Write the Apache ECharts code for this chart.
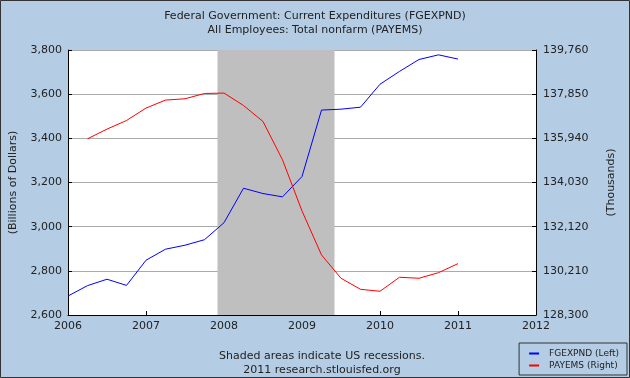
<!DOCTYPE html>
<html>
<head>
<meta charset="utf-8">
<script src="https://cdn.jsdelivr.net/npm/echarts@6/dist/echarts.min.js"></script>
<style>html,body{margin:0;padding:0;background:#B4CDE4;}#c{width:630px;height:378px;}</style>
</head>
<body>
<div id="c"></div>
<script>
// Quarterly observations
const fgQuarters = ['2006Q1','2006Q2','2006Q3','2006Q4','2007Q1','2007Q2','2007Q3','2007Q4','2008Q1','2008Q2','2008Q3','2008Q4','2009Q1','2009Q2','2009Q3','2009Q4','2010Q1','2010Q2','2010Q3','2010Q4','2011Q1'];
const fgexpnd = [2686, 2733, 2762, 2734, 2848, 2898, 2916, 2941, 3018, 3174, 3150, 3135, 3227, 3528, 3532, 3541, 3645, 3703, 3757, 3778, 3759];
const payQuarters = ['2006Q2','2006Q3','2006Q4','2007Q1','2007Q2','2007Q3','2007Q4','2008Q1','2008Q2','2008Q3','2008Q4','2009Q1','2009Q2','2009Q3','2009Q4','2010Q1','2010Q2','2010Q3','2010Q4','2011Q1'];
const payems = [135919, 136339, 136711, 137248, 137594, 137651, 137880, 137897, 137361, 136668, 135010, 132800, 130897, 129888, 129411, 129326, 129932, 129888, 130131, 130521];
const yearTicks = [2006, 2007, 2008, 2009, 2010, 2011, 2012];
const leftTicks = [2600, 2800, 3000, 3200, 3400, 3600, 3800];
const rightTicks = [128300, 130210, 132120, 134030, 135940, 137850, 139760];
const recession = ['2007-12', '2009-06'];

function qToYear(q){ return +q.slice(0,4) + (+q.slice(5) - 1) / 4; }
function ymToYear(s){ return +s.slice(0,4) + (+s.slice(5,7) - 1) / 12; }
const fmt = v => Number(v).toLocaleString('en-US');
const font = 'DejaVu Sans';

const chart = echarts.init(document.getElementById('c'));
chart.setOption({
  backgroundColor: '#B4CDE4',
  animation: false,
  textStyle: { fontFamily: font },
  title: [
    { text: 'Federal Government: Current Expenditures (FGEXPND)\nAll Employees: Total nonfarm (PAYEMS)',
      left: 'center', top: 4,
      textStyle: { fontFamily: font, fontSize: 11, fontWeight: 'normal', color: '#222', lineHeight: 14 } },
    { text: 'Shaded areas indicate US recessions.\n2011 research.stlouisfed.org',
      left: 317, textAlign: 'center', top: 344,
      textStyle: { fontFamily: font, fontSize: 11, fontWeight: 'normal', color: '#222', lineHeight: 14 } }
  ],
  legend: {
    orient: 'vertical', right: 3, bottom: 3,
    padding: [6, 8, 5, 10], itemGap: 3,
    borderColor: '#333', borderWidth: 1, backgroundColor: '#B4CDE4',
    icon: 'rect', itemWidth: 10, itemHeight: 2,
    textStyle: { fontFamily: font, fontSize: 9, color: '#222', padding: [0, 0, 0, 5] },
    data: ['FGEXPND (Left)', 'PAYEMS (Right)']
  },
  grid: { left: 66, top: 50, right: 94, bottom: 63, show: true, backgroundColor: '#fff', borderWidth: 0 },
  xAxis: {
    type: 'value', min: yearTicks[0], max: yearTicks[yearTicks.length-1], interval: 1,
    axisLine: { lineStyle: { color: '#000', width: 1 } },
    axisTick: { inside: true, length: 4, lineStyle: { color: '#000' } },
    axisLabel: { color: '#222', fontSize: 11, margin: 6, formatter: v => String(v) },
    splitLine: { show: false }
  },
  yAxis: [
    { type: 'value', min: leftTicks[0], max: leftTicks[leftTicks.length-1], interval: 200,
      name: '(Billions of Dollars)', nameLocation: 'middle', nameGap: 49, nameRotate: 90,
      nameTextStyle: { fontFamily: font, fontSize: 11, color: '#222' },
      axisLine: { show: true, lineStyle: { color: '#000' } },
      axisTick: { show: true, inside: true, length: 4, lineStyle: { color: '#000' } },
      axisLabel: { color: '#222', fontSize: 11, margin: 6, formatter: fmt },
      splitLine: { show: true, lineStyle: { color: '#aaa', width: 1 } } },
    { type: 'value', min: rightTicks[0], max: rightTicks[rightTicks.length-1], interval: 1910,
      position: 'right',
      name: '(Thousands)', nameLocation: 'middle', nameGap: 70, nameRotate: 90,
      nameTextStyle: { fontFamily: font, fontSize: 11, color: '#222' },
      axisLine: { show: true, lineStyle: { color: '#000' } },
      axisTick: { show: true, inside: true, length: 4, lineStyle: { color: '#000' } },
      axisLabel: { color: '#222', fontSize: 11, margin: 7, formatter: fmt },
      splitLine: { show: false } }
  ],
  series: [
    { name: 'FGEXPND (Left)', type: 'line', yAxisIndex: 0, showSymbol: false, z: 3,
      lineStyle: { color: '#0000FF', width: 1 }, itemStyle: { color: '#0000FF' },
      data: fgQuarters.map((q, i) => [qToYear(q), fgexpnd[i]]),
      markArea: { silent: true, itemStyle: { color: '#BFBFBF' },
        data: [[{ xAxis: ymToYear(recession[0]) }, { xAxis: ymToYear(recession[1]) }]] } },
    { name: 'PAYEMS (Right)', type: 'line', yAxisIndex: 1, showSymbol: false, z: 3,
      lineStyle: { color: '#FF0000', width: 1 }, itemStyle: { color: '#FF0000' },
      data: payQuarters.map((q, i) => [qToYear(q), payems[i]]) }
  ],
  graphic: [
    { type: 'rect', shape: { x: 0.5, y: 0.5, width: 629, height: 377 }, style: { fill: null, stroke: '#333', lineWidth: 1 }, z: 100, silent: true }
  ]
});
</script>
</body>
</html>
